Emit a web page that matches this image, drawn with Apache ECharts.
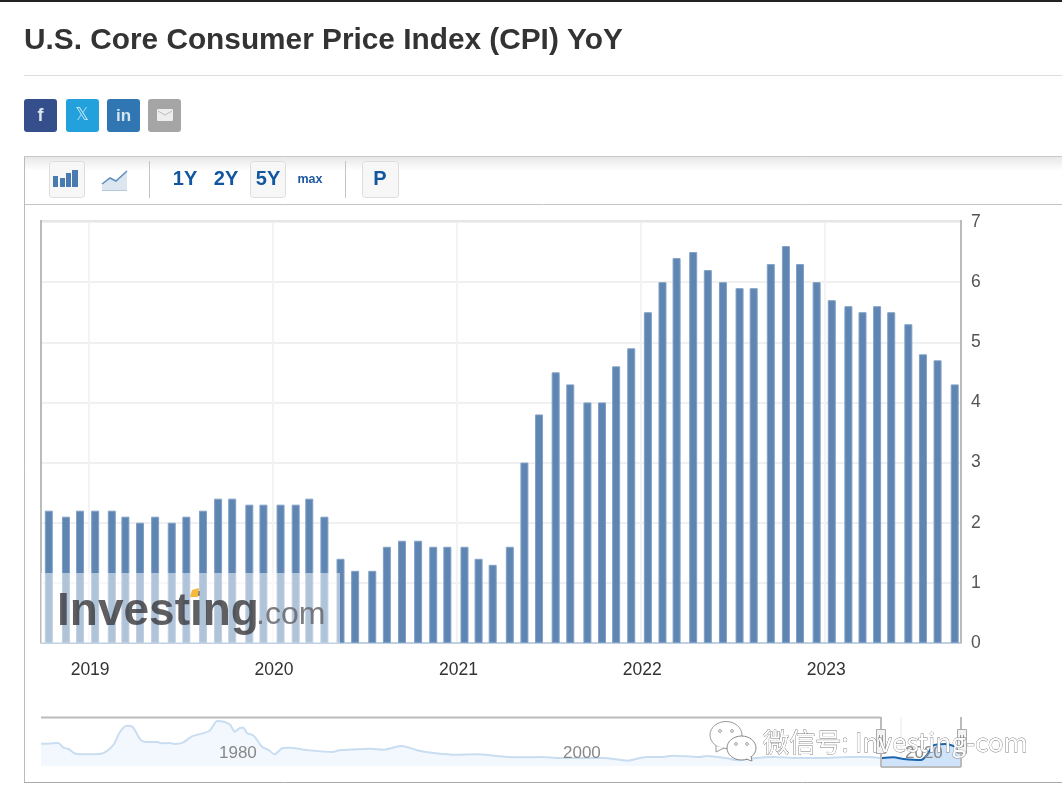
<!DOCTYPE html>
<html><head><meta charset="utf-8">
<style>html,body{margin:0;padding:0;background:#fff}#c{width:1062px;height:792px}</style>
<script src="https://cdn.jsdelivr.net/npm/echarts@6/dist/echarts.min.js"></script>
</head><body><div id="c"></div>
<script>
const titleText = 'U.S. Core Consumer Price Index (CPI) YoY';
const releaseDates = ['2018-10-14','2018-11-17','2018-12-15','2019-01-14','2019-02-16','2019-03-15','2019-04-13','2019-05-13','2019-06-15','2019-07-14','2019-08-16','2019-09-15','2019-10-13','2019-11-16','2019-12-14','2020-01-17','2020-02-16','2020-03-14','2020-04-13','2020-05-15','2020-06-13','2020-07-17','2020-08-15','2020-09-14','2020-10-16','2020-11-15','2020-12-13','2021-01-16','2021-02-13','2021-03-13','2021-04-16','2021-05-15','2021-06-13','2021-07-16','2021-08-14','2021-09-17','2021-10-16','2021-11-13','2021-12-13','2022-01-15','2022-02-13','2022-03-13','2022-04-15','2022-05-14','2022-06-13','2022-07-16','2022-08-13','2022-09-16','2022-10-16','2022-11-13','2022-12-16','2023-01-15','2023-02-17','2023-03-17','2023-04-15','2023-05-13','2023-06-16','2023-07-15','2023-08-13','2023-09-16'];
const coreCpi = [2.2,2.1,2.2,2.2,2.2,2.1,2.0,2.1,2.0,2.1,2.2,2.4,2.4,2.3,2.3,2.3,2.3,2.4,2.1,1.4,1.2,1.2,1.6,1.7,1.7,1.6,1.6,1.6,1.4,1.3,1.6,3.0,3.8,4.5,4.3,4.0,4.0,4.6,4.9,5.5,6.0,6.4,6.5,6.2,6.0,5.9,5.9,6.3,6.6,6.3,6.0,5.7,5.6,5.5,5.6,5.5,5.3,4.8,4.7,4.3];
const yearTicks = ['2019-01-01','2020-01-01','2021-01-01','2022-01-01','2023-01-01'];
const navYears = [1969.8,1970.2,1970.8,1971.1,1971.4,1971.8,1972.4,1973.3,1974.0,1974.4,1974.8,1975.1,1975.6,1975.9,1976.6,1976.8,1977.3,1977.6,1978.1,1978.6,1979.6,1980.1,1980.8,1981.1,1981.4,1981.6,1981.8,1982.2,1982.7,1983.1,1983.4,1983.9,1984.3,1985.3,1986.8,1987.2,1989.0,1989.8,1990.8,1991.9,1992.7,1994.0,1995.2,1996.4,1997.7,1998.9,2000.1,2002.6,2004.0,2005.1,2006.1,2006.6,2008.2,2008.6,2009.8,2010.4,2011.3,2012.5,2013.9,2015.4,2016.8,2018.1,2018.78];
const navValues = [6.7,6.7,6.9,5.5,5.1,3.7,3.5,3.7,6.2,10.2,12.1,11.9,7.9,7.2,7.2,6.8,6.9,6.6,7.1,8.9,10.5,13.5,12.5,10.3,11.4,11.5,9.9,9.1,5.7,4.7,3.5,5.4,5.5,4.8,4.2,4.7,5.2,4.9,6.0,4.5,3.9,3.4,3.5,3.0,2.6,2.7,2.4,2.4,1.6,2.7,2.7,3.1,2.7,3.0,2.3,1.7,2.3,2.7,2.4,2.4,2.7,2.7,2.3];
const selYears = [2018.78,2019.5,2020.1,2021.1,2021.5,2021.8,2022.5,2023.44];
const selValues = [2.3,2.6,2.1,1.8,3.6,6.1,6.6,5.1];
const navLabels = ['1980','2000','2020'];
const yTicks = [0,1,2,3,4,5,6,7];
const rangeButtons = [['1Y',185],['2Y',226],['5Y',268]];

const SANS = '"Liberation Sans", Arial, sans-serif';
const ms = d => +new Date(d);
const rect=(x,y,w,h,fill,extra={})=>({type:'rect',shape:{x,y,width:w,height:h,r:extra.r||0},style:{fill,stroke:extra.stroke,lineWidth:extra.lw||1},z:extra.z||1,silent:true});
const line=(x1,y1,x2,y2,stroke,lw=1,z=1)=>({type:'line',shape:{x1,y1,x2,y2},style:{stroke,lineWidth:lw},z,silent:true});
const txt=(x,y,text,font,fill,extra={})=>({type:'text',x,y,style:Object.assign({text,font,fill,align:extra.align||'center',verticalAlign:extra.va||'middle'},extra.style||{}),z:extra.z||2,silent:true});

const graphics = [
  rect(0,0,1062,2,'#222'),
  line(24,75.5,1062,75.5,'#ddd'),
  rect(24,99,33,33,'#344f8c',{r:3}), rect(66,99,33,33,'#23a1dd',{r:3}), rect(107,99,33,33,'#2f76b3',{r:3}), rect(148,99,33,33,'#a5a5a5',{r:3}),
  txt(40.5,116,'f','bold 18px '+SANS,'#dfe6f0'), txt(82,116,'𝕏','17px "DejaVu Sans"','#c4e6f7'), txt(123.5,116,'in','bold 17px '+SANS,'#d3e3f0'),
  rect(157,109,16,12,'#eee',{r:1}),
  {type:'polyline',shape:{points:[[158,111],[165,115],[172,111]]},style:{stroke:'#bbb',lineWidth:1,fill:null},z:2,silent:true},
  {type:'rect',shape:{x:25,y:157,width:1037,height:14},style:{fill:{type:'linear',x:0,y:0,x2:0,y2:1,colorStops:[{offset:0,color:'rgba(0,0,0,0.09)'},{offset:1,color:'rgba(0,0,0,0)'}]}},z:1,silent:true},
  line(24.5,156,24.5,782.5,'#bbb'), line(24,156.5,1062,156.5,'#c8c8c8'), line(24,782.5,1062,782.5,'#aaa'), line(25,204.5,1062,204.5,'#c4c4c4'),
  rect(49.5,161.5,35,36,'#f7f7f7',{stroke:'#ddd',r:3}),
  rect(53,176,5,11,'#4a7bb0'), rect(60,178,5,9,'#4a7bb0'), rect(66,173,5,14,'#4a7bb0'), rect(72,170,6,17,'#4a7bb0'),
  {type:'polygon',shape:{points:[[102,184],[110,178],[116,181],[127,171],[127,190],[102,190]]},style:{fill:'#dbe6f1'},z:2,silent:true},
  {type:'polyline',shape:{points:[[102,184],[110,178],[116,181],[127,171]]},style:{stroke:'#5e8dbd',lineWidth:1.5,fill:null},z:2,silent:true},
  line(102,190.5,127,190.5,'#b4c8dc',1,2),
  line(149.5,161,149.5,198,'#c4c4c4'),
  rect(250.5,161.5,35,36,'#f7f7f7',{stroke:'#ddd',r:3}),
  ...rangeButtons.map(b=>txt(b[1],179.5,b[0],'bold 20px '+SANS,'#1256a0')),
  txt(310,180,'max','bold 12.5px '+SANS,'#1e5aa0'),
  line(345.5,161,345.5,198,'#c4c4c4'),
  rect(362.5,161.5,36,36,'#f7f7f7',{stroke:'#ddd',r:3}),
  txt(380,179.5,'P','bold 20px '+SANS,'#1256a0'),
  line(41,221,961,221,'#e6e6e6',2,3), line(41,220,41,643,'#bbb',2,3), line(961,220,961,643,'#bbb',2,3),
  rect(41,573,299,70,'rgba(255,255,255,0.5)',{z:20}),
  txt(57,612,'Investing','bold 46px '+SANS,'rgba(60,60,64,0.82)',{align:'left',z:21}),
  txt(256,615,'.com','32px '+SANS,'rgba(110,110,115,0.9)',{align:'left',z:21}),
  {type:'polygon',shape:{points:[[192,590],[199,588],[198,597],[190,597]]},style:{fill:'#f5b93e'},z:22,silent:true},
  line(41,717.5,881,717.5,'#bbb',2,5), line(881,717,881,767,'#bbb',2,5), line(881,767,961,767,'#bbb',2,5), line(961,717,961,767,'#bbb',2,5),
  line(901,717,901,766,'#e8e8e8',1,3),
  txt(219,753,navLabels[0],'17px '+SANS,'#888',{align:'left',z:25}),
  txt(563,753,navLabels[1],'17px '+SANS,'#888',{align:'left',z:25}),
  txt(905,753,navLabels[2],'17px '+SANS,'#888',{align:'left',z:25}),
  rect(876.5,729.5,9,24,'#f3f3f3',{stroke:'#aaa',z:6}), rect(957.5,729.5,9,24,'#f3f3f3',{stroke:'#aaa',z:6}),
  line(879.5,735,879.5,747,'#999',1,7), line(882.5,735,882.5,747,'#999',1,7), line(960.5,735,960.5,747,'#999',1,7), line(963.5,735,963.5,747,'#999',1,7),
  {type:'ellipse',shape:{cx:726,cy:735,rx:16,ry:13.5},style:{fill:'#fff',stroke:'#999',lineWidth:1},z:30,silent:true},
  {type:'polyline',shape:{points:[[716,746],[716,752],[724,748]]},style:{fill:'#fff',stroke:'#999',lineWidth:1},z:30,silent:true},
  {type:'ellipse',shape:{cx:741.5,cy:748,rx:14.5,ry:12},style:{fill:'#fff',stroke:'#888',lineWidth:1},z:31,silent:true},
  {type:'polyline',shape:{points:[[746,759],[752,761],[751,756]]},style:{fill:'#fff',stroke:'#888',lineWidth:1},z:31,silent:true},
  ...[[720,731],[732,731],[736,744],[747,744]].map(p=>({type:'circle',shape:{cx:p[0],cy:p[1],r:1.4},style:{fill:'#fff',stroke:'#888',lineWidth:.8},z:32,silent:true})),
  txt(763,742,'微信号: Investing-com','26.2px "Noto Sans CJK SC"','#fff',{align:'left',z:33,style:{stroke:'#777',lineWidth:.8}})
];

const chart = echarts.init(document.getElementById('c'),null,{renderer:'canvas'});
chart.setOption({
  animation:false,
  backgroundColor:'#fff',
  title:{text:titleText,left:24,top:26,padding:0,textStyle:{fontFamily:SANS,fontWeight:'bold',fontSize:29.8,color:'#333'}},
  grid:[{left:41,top:222,width:920,height:421},{left:41,top:718,width:920,height:48}],
  xAxis:[
    {type:'value',gridIndex:0,min:ms('2018-09-28T12:00:00Z'),max:ms('2023-09-28T12:00:00Z'),
     axisLine:{show:true,onZero:false,lineStyle:{color:'#c0d0e0',width:2}},axisTick:{show:false,customValues:yearTicks.map(ms)},
     axisLabel:{customValues:yearTicks.map(ms),formatter:v=>String(new Date(v).getUTCFullYear()),fontFamily:SANS,fontSize:17.5,color:'#333',margin:18,padding:[0,0,0,3],showMinLabel:true,showMaxLabel:true},
     splitLine:{show:true,lineStyle:{color:'#f3f3f3',width:2}}},
    {type:'value',gridIndex:1,min:1969.8,max:2023.44,show:false,splitLine:{show:false}}
  ],
  yAxis:[
    {type:'value',gridIndex:0,position:'right',min:0,max:7,interval:1,axisLine:{show:false},axisTick:{show:false},
     axisLabel:{margin:10,fontFamily:SANS,fontSize:17.5,color:'#555',padding:[4,0,0,0],formatter:v=>yTicks.includes(v)?String(v):''},
     splitLine:{show:true,lineStyle:{color:'#f0f0f0',width:2}}},
    {type:'value',gridIndex:1,min:0,max:14.4,show:false}
  ],
  series:[
    {type:'bar',xAxisIndex:0,yAxisIndex:0,barWidth:8,data:releaseDates.map((d,i)=>[ms(d),coreCpi[i]]),
     itemStyle:{color:'#5f86b3',borderColor:'#80a0c4',borderWidth:1},silent:true},
    {type:'line',xAxisIndex:1,yAxisIndex:1,data:navYears.map((y,i)=>[y,navValues[i]]),smooth:.3,symbol:'none',silent:true,
     lineStyle:{color:'#c9ddf0',width:2},areaStyle:{color:'#f3f8fe',opacity:1}},
    {type:'line',xAxisIndex:1,yAxisIndex:1,data:selYears.map((y,i)=>[y,selValues[i]]),smooth:.3,symbol:'none',silent:true,
     lineStyle:{color:'#1a65ad',width:2},areaStyle:{color:'#cfe3fb',opacity:1}}
  ],
  graphic:graphics
});
</script></body></html>
